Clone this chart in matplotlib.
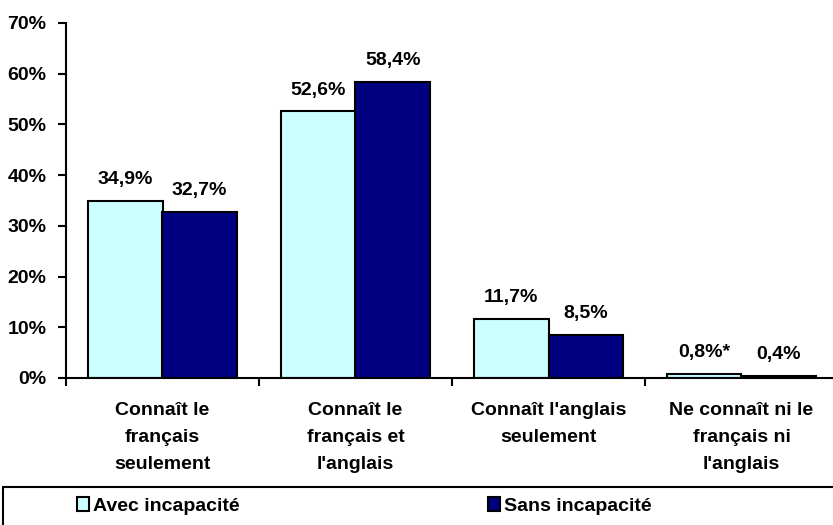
import numpy as np
import matplotlib.pyplot as plt
from matplotlib.patches import Rectangle

categories = ["Connaît le\nfrançais\nseulement", "Connaît le\nfrançais et\nl'anglais",
              "Connaît l'anglais\nseulement", "Ne connaît ni le\nfrançais ni\nl'anglais"]
avec = [34.9, 52.6, 11.7, 0.8]
sans = [32.7, 58.4, 8.5, 0.4]
avec_labels = ["34,9%", "52,6%", "11,7%", "0,8%*"]
sans_labels = ["32,7%", "58,4%", "8,5%", "0,4%"]
series_names = ["Avec incapacité", "Sans incapacité"]

plt.rcParams['font.family'] = ['Liberation Sans', 'DejaVu Sans']
plt.rcParams['font.weight'] = 'bold'
fs = 14

fig = plt.figure(figsize=(8.33, 5.25), dpi=100)
ax = fig.add_axes([66 / 833, 1 - 378 / 525, (838 - 66) / 833, (378 - 23) / 525])

x = np.arange(len(categories)) + 0.5
w = 0.385
b1 = ax.bar(x - w / 2, avec, w, color='#CCFFFF', edgecolor='black', linewidth=1.5, label=series_names[0])
b2 = ax.bar(x + w / 2, sans, w, color='#000080', edgecolor='black', linewidth=1.5, label=series_names[1])

for xs, vals, labs in [(x - w / 2, avec, avec_labels), (x + w / 2, sans, sans_labels)]:
    for xi, v, t in zip(xs, vals, labs):
        ax.annotate(t, (xi, v), xytext=(0, 12), textcoords='offset points',
                    ha='center', va='baseline', fontsize=fs, fontweight='bold')

ax.set_xlim(0, 4)
ax.set_ylim(0, 70)
ax.set_yticks(np.arange(0, 71, 10))
ax.set_yticklabels([f"{v}%" for v in range(0, 71, 10)], fontsize=fs, fontweight='bold')
ax.set_xticks(np.arange(0, 5))
ax.set_xticklabels([])
ax.set_xticks(x, minor=True)
ax.set_xticklabels(categories, minor=True, fontsize=fs, fontweight='bold', linespacing=1.78)
ax.tick_params(axis='x', which='minor', length=0, pad=17)
ax.tick_params(axis='x', which='major', direction='out', length=6, width=1.5)
ax.tick_params(axis='y', direction='out', length=6, width=1.5, pad=8)
for s in ['top', 'right']:
    ax.spines[s].set_visible(False)
for s in ['left', 'bottom']:
    ax.spines[s].set_linewidth(1.5)

fig.patches.append(Rectangle((3 / 833, -0.05), 840 / 833, (525 - 487) / 525 + 0.05,
                             transform=fig.transFigure, fill=False, edgecolor='black', linewidth=1.5))
leg = fig.legend(handles=[b1, b2], labels=series_names, loc='center left', bbox_to_anchor=(77 / 833, 1 - 506 / 525),
                 ncol=2, frameon=False, prop={'weight': 'bold', 'size': fs}, borderaxespad=0, borderpad=0,
                 handlelength=0.6, handleheight=0.75, handletextpad=0.2, columnspacing=12.8)

fig.savefig('out.png', dpi=100)
